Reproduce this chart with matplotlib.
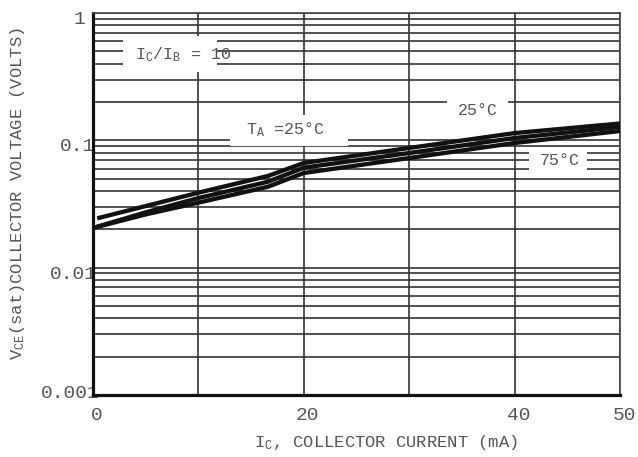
import matplotlib
matplotlib.use("Agg")
import matplotlib.pyplot as plt
import matplotlib.transforms as mtransforms
from matplotlib.patches import Rectangle

plt.rcParams["font.family"] = ["Liberation Mono", "DejaVu Sans"]
plt.rcParams["mathtext.fontset"] = "custom"
plt.rcParams["mathtext.rm"] = "Liberation Mono"
plt.rcParams["mathtext.it"] = "Liberation Mono"
plt.rcParams["mathtext.bf"] = "Liberation Mono"

# Collector current (mA) and saturation voltage (V) for the three curves
ic_upper = [0.4, 10, 16.6, 20, 30, 40, 50]
vce_upper = [0.0244, 0.0388, 0.0525, 0.0664, 0.0871, 0.114, 0.1356]

ic_mid = [0, 5, 10, 16.6, 20, 30, 40, 50]
vce_mid = [0.0205, 0.0272, 0.0352, 0.0473, 0.0610, 0.0795, 0.1043, 0.1273]

ic_low = [0, 5, 10, 16.6, 20, 30, 40, 50]
vce_low = [0.0205, 0.0262, 0.0324, 0.0432, 0.0554, 0.0726, 0.0953, 0.1184]

x_ticks = [0, 10, 20, 30, 40, 50]
x_tick_labels = ["0", "", "20", "", "40", "50"]
y_ticks = [0.001, 0.01, 0.1, 1]
y_tick_labels = ["0.001", "0.01", "0.1", "1"]

label_ratio = "I$_\\mathrm{C}$/I$_\\mathrm{B}$ = 10"
label_ta = "T$_\\mathrm{A}$ =25°C"
label_25 = "25°C"
label_75 = "75°C"
x_title = "I$_\\mathrm{C}$, COLLECTOR CURRENT (mA)"
y_title = "V$_\\mathrm{CE}$(sat)COLLECTOR VOLTAGE (VOLTS)"

text_gray = "#555555"
grid_gray = "#333333"

fig = plt.figure(figsize=(6.38, 4.57), dpi=100)
ax = fig.add_axes([93 / 638, 1 - 395 / 457, 527 / 638, 382 / 457])

ax.set_yscale("log")
ax.set_xlim(0, 50)
ax.set_ylim(0.001, 1)

ax.set_axisbelow(True)
ax.set_xticks(x_ticks, labels=x_tick_labels)
ax.set_yticks(y_ticks, labels=y_tick_labels)
ax.yaxis.set_minor_locator(matplotlib.ticker.LogLocator(base=10, subs=range(2, 10)))
ax.yaxis.set_minor_formatter(matplotlib.ticker.NullFormatter())
ax.grid(True, which="both", axis="y", color=grid_gray, linewidth=1.2)
ax.grid(True, which="major", axis="x", color=grid_gray, linewidth=1.2)

ax.tick_params(axis="both", which="both", length=0, colors=text_gray, labelsize=14)
ax.tick_params(axis="x", pad=8.6)
ax.tick_params(axis="y", pad=0)

# nudge tick labels to sit where the printed ones do
for lab, dx in zip(ax.get_xticklabels(), [4, 0, 4, 0, 4, 4]):
    lab.set_transform(lab.get_transform() +
                      mtransforms.ScaledTranslation(dx / 100, 0, fig.dpi_scale_trans))
for lab, dx, dy in zip(ax.get_yticklabels(), [7, 4, 2, -8], [4, -5, -4, -5]):
    lab.set_transform(lab.get_transform() +
                      mtransforms.ScaledTranslation(dx / 100, dy / 100, fig.dpi_scale_trans))

for side in ("left", "bottom"):
    ax.spines[side].set_linewidth(2.3)
    ax.spines[side].set_color("#111111")
for side in ("top", "right"):
    ax.spines[side].set_linewidth(1.2)
    ax.spines[side].set_color("#444444")

# white label boxes mask the grid
boxes = [
    (0.057, 0.846, 0.235, 0.940),
    (0.260, 0.652, 0.484, 0.733),
    (0.672, 0.707, 0.788, 0.804),
    (0.827, 0.584, 0.937, 0.641),
]
for x0, y0, x1, y1 in boxes:
    ax.add_patch(Rectangle((x0, y0), x1 - x0, y1 - y0, transform=ax.transAxes,
                           facecolor="white", edgecolor="none", zorder=2))

for xs, ys in ((ic_upper, vce_upper), (ic_mid, vce_mid), (ic_low, vce_low)):
    ax.plot(xs, ys, color="#111111", linewidth=3.1, solid_capstyle="butt",
            solid_joinstyle="round", zorder=3, clip_on=True)

ax.text(0.0797, 0.890, label_ratio, transform=ax.transAxes, ha="left", va="center",
        fontsize=12, color=text_gray, zorder=4)
ax.text(0.290, 0.694, label_ta, transform=ax.transAxes, ha="left", va="center",
        fontsize=12, color=text_gray, zorder=4)
ax.text(0.7306, 0.746, label_25, transform=ax.transAxes, ha="center", va="center",
        fontsize=12, color=text_gray, zorder=4)
ax.text(0.886, 0.613, label_75, transform=ax.transAxes, ha="center", va="center",
        fontsize=12, color=text_gray, zorder=4)

fig.text(386 / 638, 1 - 442 / 457, x_title, ha="center", va="center",
         fontsize=12.3, color=text_gray)
fig.text(18 / 638, 1 - 194 / 457, y_title, ha="center", va="center",
         rotation=90, fontsize=12.3, color=text_gray)

fig.savefig("out.png", dpi=100, facecolor="white")
